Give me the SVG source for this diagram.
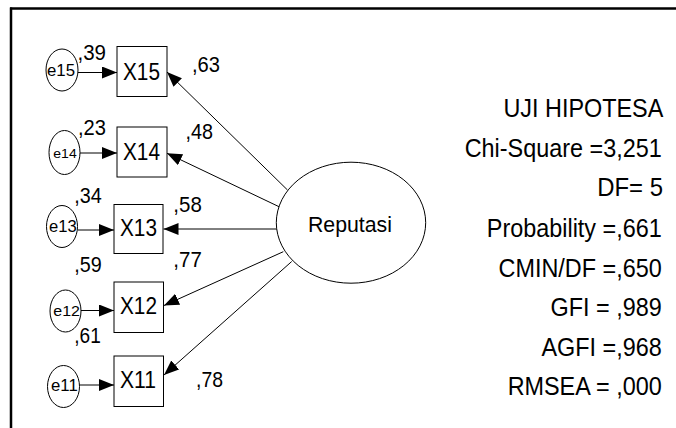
<svg xmlns="http://www.w3.org/2000/svg" width="676" height="428" viewBox="0 0 676 428">
<style>
text{font-family:"Liberation Sans",Arial,sans-serif;fill:#000}
.box{fill:#fff;stroke:#000;stroke-width:1}
.err{fill:#fff;stroke:#000;stroke-width:1}
.lat{fill:#fff;stroke:#000;stroke-width:1}
.con{stroke:#000;stroke-width:1;fill:none;marker-end:url(#ah)}
.lbl{font-size:23px}
.num{font-size:22px}
.stat{font-size:26px;text-anchor:end}
</style>
<defs>
<marker id="ah" markerUnits="userSpaceOnUse" markerWidth="16" markerHeight="13" refX="15" refY="6" orient="auto">
<path d="M0,0 L15,6 L0,12 Z" fill="#000"/>
</marker>
</defs>
<rect x="0" y="0" width="676" height="428" fill="#fff"/>
<g id="frame">
<line x1="10" y1="8.5" x2="676" y2="8.5" stroke="#000" stroke-width="2.5"/>
<line x1="11" y1="7.5" x2="11" y2="428" stroke="#000" stroke-width="2.5"/>
</g>
<g id="connectors">
<line class="con" x1="78" y1="72.5" x2="117" y2="72.5"/>
<line class="con" x1="80" y1="153" x2="117" y2="153"/>
<line class="con" x1="77.5" y1="230" x2="114" y2="230"/>
<line class="con" x1="81" y1="310.5" x2="114" y2="310.5"/>
<line class="con" x1="79.5" y1="385" x2="114" y2="385"/>
<line class="con" x1="287.5" y1="190" x2="167" y2="72"/>
<line class="con" x1="279" y1="206.7" x2="167" y2="153.3"/>
<line class="con" x1="277" y1="229" x2="163.5" y2="229"/>
<line class="con" x1="283.3" y1="251.7" x2="164" y2="305.5"/>
<line class="con" x1="291.7" y1="261.5" x2="164" y2="375"/>
</g>
<g id="e15"><ellipse class="err" cx="62" cy="70" rx="16" ry="21"/><text x="47" y="76" font-size="16" textLength="28" lengthAdjust="spacingAndGlyphs">e15</text></g>
<g id="e14"><ellipse class="err" cx="64.5" cy="152.5" rx="15.5" ry="22"/><text x="53.3" y="158.3" font-size="13" textLength="23.4" lengthAdjust="spacingAndGlyphs">e14</text></g>
<g id="e13"><ellipse class="err" cx="62" cy="226.5" rx="15.5" ry="21"/><text x="49" y="231.7" font-size="16" textLength="27.7" lengthAdjust="spacingAndGlyphs">e13</text></g>
<g id="e12"><ellipse class="err" cx="65.5" cy="311" rx="15.5" ry="21"/><text x="53.3" y="315.5" font-size="14.5" textLength="26.7" lengthAdjust="spacingAndGlyphs">e12</text></g>
<g id="e11"><ellipse class="err" cx="63.5" cy="386.5" rx="16" ry="21"/><text x="51" y="390.5" font-size="16" textLength="26.7" lengthAdjust="spacingAndGlyphs">e11</text></g>
<g id="X15"><rect class="box" x="117" y="46.5" width="50" height="50"/><text class="lbl" x="123" y="80" textLength="37" lengthAdjust="spacingAndGlyphs">X15</text></g>
<g id="X14"><rect class="box" x="117" y="127" width="50" height="50"/><text class="lbl" x="123" y="160" textLength="37" lengthAdjust="spacingAndGlyphs">X14</text></g>
<g id="X13"><rect class="box" x="114" y="204.5" width="49" height="49"/><text class="lbl" x="120" y="236" textLength="37" lengthAdjust="spacingAndGlyphs">X13</text></g>
<g id="X12"><rect class="box" x="114" y="282" width="49.5" height="50.5"/><text class="lbl" x="120" y="313.5" textLength="37" lengthAdjust="spacingAndGlyphs">X12</text></g>
<g id="X11"><rect class="box" x="114" y="356" width="49.5" height="50.5"/><text class="lbl" x="120" y="388" textLength="36" lengthAdjust="spacingAndGlyphs">X11</text></g>
<g id="Reputasi"><ellipse class="lat" cx="351" cy="222.7" rx="74.7" ry="60.5"/><text x="308" y="232" font-size="22" textLength="84" lengthAdjust="spacingAndGlyphs">Reputasi</text></g>
<g id="loadings">
<text class="num" x="77.5" y="60" textLength="28.5" lengthAdjust="spacingAndGlyphs">,39</text>
<text class="num" x="192" y="71.5" textLength="28" lengthAdjust="spacingAndGlyphs">,63</text>
<text class="num" x="78" y="135" textLength="28" lengthAdjust="spacingAndGlyphs">,23</text>
<text class="num" x="185.5" y="139.3" textLength="27.5" lengthAdjust="spacingAndGlyphs">,48</text>
<text class="num" x="74.3" y="202.7" textLength="27.5" lengthAdjust="spacingAndGlyphs">,34</text>
<text class="num" x="173.3" y="211.7" textLength="28.5" lengthAdjust="spacingAndGlyphs">,58</text>
<text class="num" x="74.3" y="271.7" textLength="27.5" lengthAdjust="spacingAndGlyphs">,59</text>
<text class="num" x="173.3" y="266.7" textLength="28.5" lengthAdjust="spacingAndGlyphs">,77</text>
<text class="num" x="74.3" y="342.5" textLength="26.5" lengthAdjust="spacingAndGlyphs">,61</text>
<text class="num" x="196" y="386.7" textLength="27" lengthAdjust="spacingAndGlyphs">,78</text>
</g>
<g id="stats">
<text class="stat" transform="translate(663.3 117.3) scale(0.9 1)">UJI HIPOTESA</text>
<text class="stat" transform="translate(661.7 156.7) scale(0.9 1)">Chi-Square =3,251</text>
<text class="stat" transform="translate(663 195.5) scale(0.92 1)">DF= 5</text>
<text class="stat" transform="translate(661.7 236.5) scale(0.9 1)">Probability =,661</text>
<text class="stat" transform="translate(661.7 276.5) scale(0.9 1)">CMIN/DF =,650</text>
<text class="stat" transform="translate(661.7 315.5) scale(0.9 1)">GFI = ,989</text>
<text class="stat" transform="translate(661.7 355.7) scale(0.9 1)">AGFI =,968</text>
<text class="stat" transform="translate(661.7 395) scale(0.9 1)">RMSEA = ,000</text>
</g>
</svg>
